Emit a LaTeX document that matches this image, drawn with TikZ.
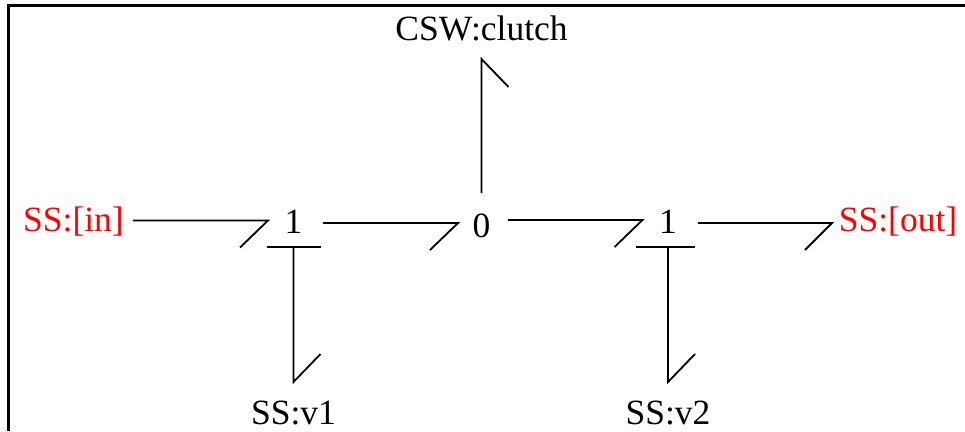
\documentclass[tikz,border=0pt]{standalone}
\usepackage{fontspec}
\setmainfont{Liberation Serif}
\tikzset{
  x=1pt,y=-1pt,
  lbl/.style={anchor=base,inner sep=0pt,outer sep=0pt,align=center,font=\fontsize{35.5}{40}\selectfont},
  redlbl/.style={lbl,text=red},
  bond/.style={draw=black,line width=1.8pt},
  frameline/.style={draw=black,line width=3.4pt}
}
\begin{document}
\begin{tikzpicture}
\useasboundingbox (0,0) rectangle (965,431);
\draw[frameline] (8.5,431) -- (8.5,5.5) -- (965,5.5);
\node[lbl] (csw) at (481.5,40) {CSW:clutch};
\node[redlbl,minimum width=119pt] (in) at (73.5,231) {SS:[in]};
\node[redlbl,minimum width=132pt] (out) at (898,231) {SS:[out]};
\node[lbl,minimum width=51pt] (j1) at (293.5,233) {1};
\node[lbl,minimum width=47pt] (j0) at (481.5,237) {0};
\node[lbl,minimum width=51pt] (j2) at (668,233) {1};
\node[lbl] (v1) at (293.5,424) {SS:v1};
\node[lbl] (v2) at (668,424) {SS:v2};
% horizontal bonds with half arrows
\draw[bond] ([yshift=10.5pt]in.base east) -- ([yshift=12.5pt]j1.base west) -- ++(-28,27);
\draw[bond] ([xshift=4pt,yshift=10pt]j1.base east) -- ([yshift=14pt]j0.base west) -- ++(-28,27);
\draw[bond] ([xshift=3pt,yshift=17pt]j0.base east) -- ([yshift=13pt]j2.base west) -- ++(-28,27);
\draw[bond] ([xshift=4.5pt,yshift=10pt]j2.base east) -- ([yshift=8pt]out.base west) -- ++(-27,27);
% vertical bonds with strokes and half arrows
\draw[bond] ([xshift=-26.5pt,yshift=-14pt]j1.base) -- ([xshift=27pt,yshift=-14pt]j1.base);
\draw[bond] ([yshift=-14pt]j1.base) -- ([yshift=42pt]v1.base) -- ++(27,-28);
\draw[bond] ([xshift=-32pt,yshift=-14pt]j2.base) -- ([xshift=27pt,yshift=-14pt]j2.base);
\draw[bond] ([yshift=-14pt]j2.base) -- ([yshift=42pt]v2.base) -- ++(27,-28);
\draw[bond] ([yshift=44pt]j0.base) -- ([yshift=-19pt]csw.base) -- ++(27,28);
\end{tikzpicture}
\end{document}
